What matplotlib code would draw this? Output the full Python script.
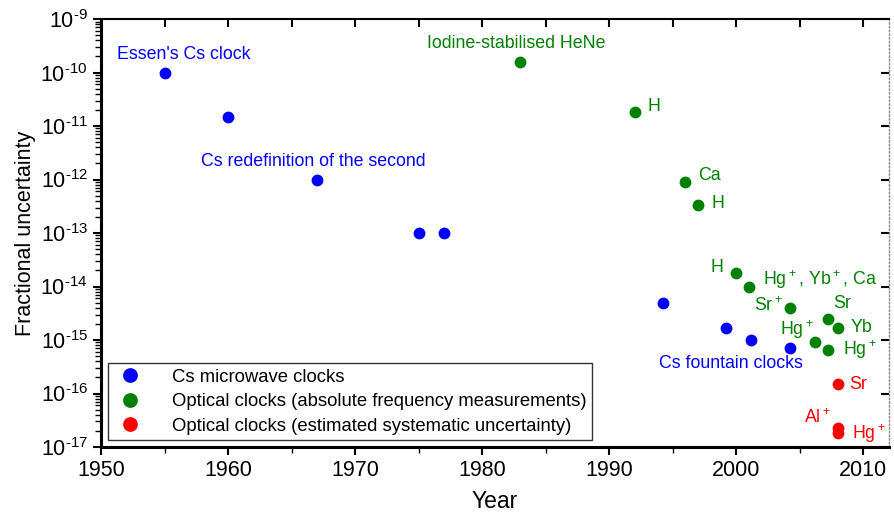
import matplotlib
matplotlib.use("Agg")
import matplotlib.pyplot as plt
from matplotlib.ticker import LogLocator, NullFormatter, MultipleLocator, FuncFormatter
import numpy as np

plt.rcParams['font.family'] = ['Liberation Sans', 'DejaVu Sans']
plt.rcParams['mathtext.fontset'] = 'custom'
plt.rcParams['mathtext.rm'] = 'Liberation Sans'
plt.rcParams['mathtext.default'] = 'regular'
plt.rcParams['axes.unicode_minus'] = False

# Cs microwave clocks
cs_year = [1955, 1960, 1967, 1975, 1977, 1994.2, 1999.2, 2001.2, 2004.2]
cs_unc = [1e-10, 1.5e-11, 1e-12, 1e-13, 1e-13, 5e-15, 1.7e-15, 1e-15, 7e-16]

# optical clocks, absolute frequency measurements
abs_year = [1983, 1992, 1996, 1997, 2000, 2001, 2004.2, 2007.2, 2008, 2006.2, 2007.2]
abs_unc = [1.6e-10, 1.8e-11, 9e-13, 3.4e-13, 1.8e-14, 1e-14, 3.9e-15, 2.5e-15, 1.7e-15, 9e-16, 6.5e-16]

# optical clocks, estimated systematic uncertainty
sys_year = [2008, 2008, 2008]
sys_unc = [1.5e-16, 2.3e-17, 1.85e-17]

blue = '#0000ff'
green = '#008000'
red = '#ff0000'


def exp_fmt(v, pos):
    n = int(round(np.log10(v)))
    return r'$10^{\text{%d}}$' % n


fig = plt.figure(figsize=(8.94, 5.15), dpi=100)
ax = fig.add_axes([0.113, 0.132, 0.881, 0.831])

ax.plot(cs_year, cs_unc, 'o', color=blue, ms=8.5, mec='none', label='Cs microwave clocks')
ax.plot(abs_year, abs_unc, 'o', color=green, ms=8.5, mec='none',
        label='Optical clocks (absolute frequency measurements)')
ax.plot(sys_year, sys_unc, 'o', color=red, ms=8.5, mec='none',
        label='Optical clocks (estimated systematic uncertainty)')

ax.set_yscale('log')
ax.set_xlim(1950, 2012)
ax.set_ylim(1e-17, 1e-9)
ax.xaxis.set_major_locator(MultipleLocator(10))
ax.xaxis.set_minor_locator(MultipleLocator(5))
ax.yaxis.set_major_locator(LogLocator(base=10, numticks=20))
ax.yaxis.set_minor_locator(LogLocator(base=10, subs=range(2, 10), numticks=20))
ax.yaxis.set_major_formatter(FuncFormatter(exp_fmt))
ax.yaxis.set_minor_formatter(NullFormatter())
ax.tick_params(axis='both', which='major', direction='out', length=6, width=1.5,
               labelsize=15.5, top=False, right=False)
ax.tick_params(axis='both', which='minor', direction='out', length=4, width=1,
               top=False, right=False)

for s in ['left', 'bottom']:
    ax.spines[s].set_linewidth(2.2)
ax.spines['top'].set_linewidth(1.5)
ax.spines['right'].set_linestyle(':')
ax.spines['right'].set_color('#888888')
ax.spines['right'].set_linewidth(1)

top = ax.secondary_xaxis('top')
top.xaxis.set_major_locator(MultipleLocator(5))
top.tick_params(direction='in', length=6, width=1.5, labeltop=False)
top.spines['top'].set_visible(False)

right = ax.secondary_yaxis('right')
right.yaxis.set_major_locator(LogLocator(base=10, numticks=20))
right.yaxis.set_minor_locator(LogLocator(base=10, subs=[], numticks=20))
right.tick_params(which='major', direction='in', length=6, width=1.5, labelright=False)
right.spines['right'].set_visible(False)

ax.set_xlabel('Year', fontsize=16.5, labelpad=6)
ax.set_ylabel('Fractional uncertainty', fontsize=15.5, labelpad=3)

fs = 12.8
ax.annotate("Essen's Cs clock", (1955, 1e-10), xytext=(14, 13), textcoords='offset points',
            color=blue, fontsize=fs, ha='center', va='center')
ax.annotate("Cs redefinition of the second", (1967, 1e-12), xytext=(-3, 13),
            textcoords='offset points', color=blue, fontsize=fs, ha='center', va='center')
ax.annotate("Iodine-stabilised HeNe", (1983, 1.6e-10), xytext=(-3, 13),
            textcoords='offset points', color=green, fontsize=fs, ha='center', va='center')
ax.annotate("Cs fountain clocks", (2004.2, 7e-16), xytext=(-42, -11),
            textcoords='offset points', color=blue, fontsize=fs, ha='center', va='center')

green_labels = [
    ("H", 1992, 1.8e-11, 9, 4, 'left'),
    ("Ca", 1996, 9e-13, 9, 5, 'left'),
    ("H", 1997, 3.4e-13, 10, 1, 'left'),
    ("H", 2000, 1.8e-14, -9, 4, 'right'),
    ("Hg$^+$, Yb$^+$, Ca", 2001, 1e-14, 10, 5, 'left'),
    ("Sr$^+$", 2004.2, 3.9e-15, -5, 2, 'right'),
    ("Sr", 2007.2, 2.5e-15, 4, 11, 'left'),
    ("Yb", 2008, 1.7e-15, 9, 0, 'left'),
    ("Hg$^+$", 2006.2, 9e-16, -1, 9, 'right'),
    ("Hg$^+$", 2007.2, 6.5e-16, 11, 0, 'left'),
]
for txt, x, y, dx, dy, ha in green_labels:
    ax.annotate(txt, (x, y), xytext=(dx, dy), textcoords='offset points',
                color=green, fontsize=fs, ha=ha, va='center')

red_labels = [
    ("Sr", 2008, 1.5e-16, 8, 0, 'left'),
    ("Al$^+$", 2008, 2.3e-17, -5, 7, 'right'),
    ("Hg$^+$", 2008, 1.85e-17, 10, -1, 'left'),
]
for txt, x, y, dx, dy, ha in red_labels:
    ax.annotate(txt, (x, y), xytext=(dx, dy), textcoords='offset points',
                color=red, fontsize=fs, ha=ha, va='center')

leg = ax.legend(loc='lower left', bbox_to_anchor=(0.009, 0.016), borderaxespad=0,
                fontsize=13.3, frameon=True, fancybox=False, edgecolor='#333333',
                framealpha=1, handletextpad=1.35, borderpad=0.3, labelspacing=0.4,
                markerscale=1.25, handlelength=1.8)
leg.get_frame().set_linewidth(1)

fig.savefig('out.png', dpi=100)
